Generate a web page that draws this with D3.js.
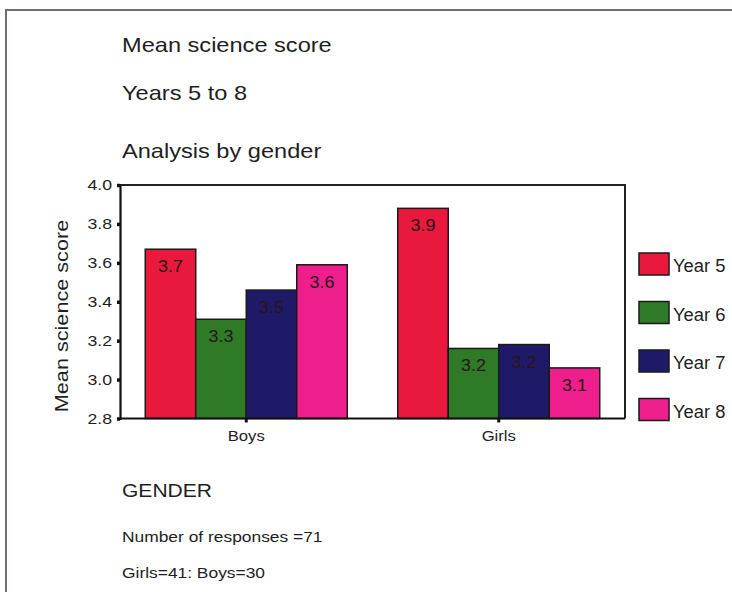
<!DOCTYPE html>
<html>
<head>
<meta charset="utf-8">
<script src="https://cdn.jsdelivr.net/npm/d3@7"></script>
<style>
  html, body { margin: 0; padding: 0; background: #fff; }
  svg { display: block; }
  text { font-family: "Liberation Sans", Arial, sans-serif; fill: #1e1e24; }
</style>
</head>
<body>
<svg id="chart" width="732" height="592"></svg>
<script>
// Chart data
const genders = ["Boys", "Girls"];
const years = ["Year 5", "Year 6", "Year 7", "Year 8"];
const boysScores = [3.67, 3.31, 3.46, 3.59];
const girlsScores = [3.88, 3.16, 3.18, 3.06];
const yTicks = [2.8, 3.0, 3.2, 3.4, 3.6, 3.8, 4.0];
const titleLines = ["Mean science score", "Years 5 to 8", "Analysis by gender"];
const yAxisTitle = "Mean science score";
const xAxisTitle = "GENDER";
const footnotes = ["Number of responses =71", "Girls=41: Boys=30"];
const yearColors = ["#e8193c", "#2e7a26", "#1f1a68", "#ee1e8c"];

const scoresByGender = { Boys: boysScores, Girls: girlsScores };
const rows = genders.map(g => ({
  gender: g,
  values: years.map((y, i) => ({ gender: g, year: y, value: scoresByGender[g][i] }))
}));

const svg = d3.select("#chart");
const STRETCH = 1.17; // the typeface is set slightly wide

// helper: text placed at (x,y) with a horizontal stretch
function label(parent, x, y, str, size, anchor, sx) {
  return parent.append("text")
    .attr("transform", `translate(${x},${y}) scale(${sx || STRETCH},1)`)
    .attr("font-size", size)
    .attr("text-anchor", anchor || "start")
    .text(str);
}

// page frame (top and left rules)
svg.append("path")
  .attr("d", "M6,592 V10 H732")
  .attr("fill", "none")
  .attr("stroke", "#6e6e80")
  .attr("stroke-width", 2);

// titles
const titleY = [51.5, 100, 158];
titleLines.forEach((t, i) => label(svg, 122, titleY[i], t, 20, "start", 1.18));

// plot area
const plot = { left: 120, right: 625, top: 185, bottom: 418.5 };

const y = d3.scaleLinear().domain([2.8, 4.0]).range([plot.bottom, plot.top]);
const x0 = d3.scaleBand().domain(genders).range([plot.left, plot.right])
  .paddingInner(0.2).paddingOuter(0.1);
const x1 = d3.scaleBand().domain(years).range([0, x0.bandwidth()]).padding(0);
const color = d3.scaleOrdinal().domain(years).range(yearColors);
const fmt = d3.format(".1f");

// frame around plot (top and right)
svg.append("path")
  .attr("d", `M${plot.left},${plot.top} H${plot.right} V${plot.bottom}`)
  .attr("fill", "none").attr("stroke", "#222").attr("stroke-width", 2);

// bars
const groups = svg.append("g").selectAll("g")
  .data(rows).join("g")
  .attr("transform", d => `translate(${x0(d.gender)},0)`);

groups.selectAll("rect")
  .data(d => d.values).join("rect")
  .attr("x", d => x1(d.year))
  .attr("y", d => y(d.value))
  .attr("width", x1.bandwidth())
  .attr("height", d => y(2.8) - y(d.value))
  .attr("fill", d => color(d.year))
  .attr("stroke", "#1a1a1a")
  .attr("stroke-width", 1.5);

groups.selectAll("text.val")
  .data(d => d.values).join("text")
  .attr("class", "val")
  .attr("transform", d => `translate(${x1(d.year) + x1.bandwidth() / 2},${y(d.value) + 23}) scale(1.12,1)`)
  .attr("text-anchor", "middle")
  .attr("font-size", 16)
  .style("fill", "#2a1418")
  .text(d => fmt(d.value));

// y axis
const yAxis = svg.append("g")
  .attr("transform", `translate(${plot.left},0)`)
  .call(d3.axisLeft(y).tickValues(yTicks).tickFormat(fmt).tickSize(3).tickPadding(6));
yAxis.select(".domain").attr("stroke", "#111").attr("stroke-width", 2.2);
yAxis.selectAll(".tick line").attr("stroke", "#111").attr("stroke-width", 3.5);
yAxis.selectAll(".tick text")
  .attr("font-size", 15)
  .attr("font-family", "Liberation Sans, Arial, sans-serif")
  .attr("fill", "#1e1e24")
  .attr("x", null)
  .attr("transform", "translate(-8,0) scale(1.18,1)");

// x axis
const xAxis = svg.append("g")
  .attr("transform", `translate(0,${plot.bottom})`)
  .call(d3.axisBottom(x0).tickSize(4).tickPadding(8));
xAxis.select(".domain").attr("stroke", "#111").attr("stroke-width", 2.2)
  .attr("d", `M${plot.left},0 H${plot.right}`);
xAxis.selectAll(".tick line").attr("stroke", "#111").attr("stroke-width", 3);
xAxis.selectAll(".tick text")
  .attr("font-size", 14.5)
  .attr("font-family", "Liberation Sans, Arial, sans-serif")
  .attr("fill", "#1e1e24")
  .attr("transform", "scale(1.15,1)");

// y axis title
svg.append("text")
  .attr("transform", "translate(68,316) rotate(-90) scale(1.17,1)")
  .attr("text-anchor", "middle")
  .attr("font-size", 18.5)
  .text(yAxisTitle);

// legend
const ly = d3.scalePoint().domain(years).range([253, 398.5]);
const legend = svg.append("g").selectAll("g")
  .data(years).join("g")
  .attr("transform", d => `translate(639,${ly(d)})`);
legend.append("rect")
  .attr("width", 30).attr("height", 22)
  .attr("fill", d => color(d))
  .attr("stroke", "#1a1a1a").attr("stroke-width", 1.5);
legend.each(function (d) {
  label(d3.select(this), 34, 19, d, 17.5, "start", 1.05);
});

// x axis title and notes
label(svg, 122, 497, xAxisTitle, 18);
label(svg, 122, 542, footnotes[0], 14.5, "start", 1.2);
label(svg, 122, 578, footnotes[1], 14.5, "start", 1.2);
</script>
</body>
</html>
